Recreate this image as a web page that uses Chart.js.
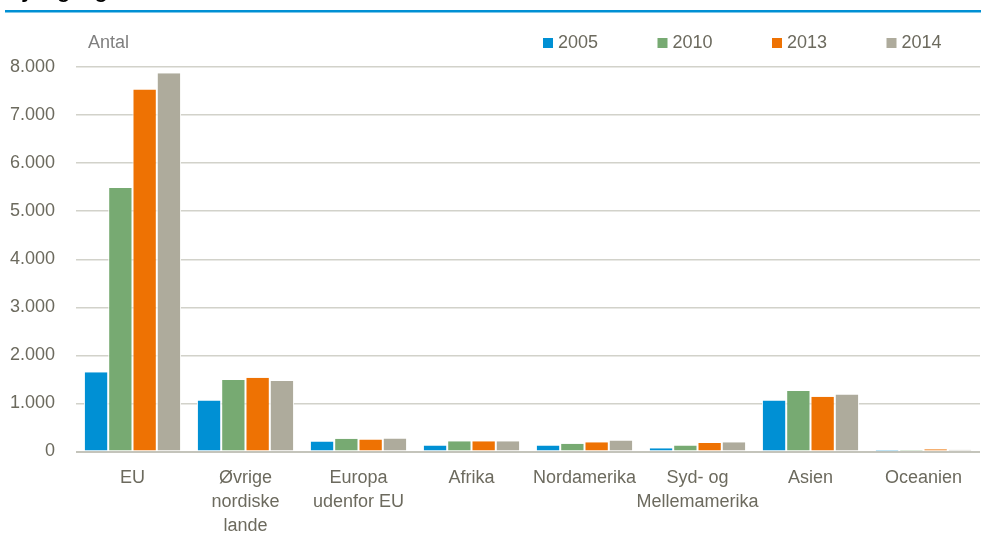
<!DOCTYPE html>
<html>
<head>
<meta charset="utf-8">
<script src="https://cdn.jsdelivr.net/npm/chart.js@4"></script>
<style>
  html, body { margin: 0; padding: 0; background: #fff; }
  #wrap { width: 981px; height: 535px; position: relative; overflow: hidden; }
</style>
</head>
<body>
<div id="wrap"><canvas id="bar-chart" width="981" height="535"></canvas></div>
<script>
// data
const regions = [
    ['EU'], ['Øvrige', 'nordiske', 'lande'], ['Europa', 'udenfor EU'], ['Afrika'],
    ['Nordamerika'], ['Syd- og', 'Mellemamerika'], ['Asien'], ['Oceanien']
];
const years = ['2005', '2010', '2013', '2014'];
const v2005 = [1650, 1060, 210, 125, 125, 70, 1060, 3];
const v2010 = [5480, 1490, 265, 215, 160, 125, 1260, 10];
const v2013 = [7530, 1535, 250, 215, 195, 175, 1140, 45];
const v2014 = [7870, 1465, 270, 215, 230, 195, 1185, 35];
const yTicks = [0, 1000, 2000, 3000, 4000, 5000, 6000, 7000, 8000];
const colors = ['#0090d4', '#77aa72', '#ee7203', '#aeab9c'];

const FONT = '"Liberation Sans", Arial, sans-serif';
const textCol = '#6c6a5e';

function dots(v) {
    return String(v).replace(/\B(?=(\d{3})+(?!\d))/g, '.');
}

// header line, cut-off title, "Antal" and the legend
const decor = {
    id: 'decor',
    afterDraw(chart) {
        const ctx = chart.ctx;
        ctx.save();
        ctx.fillStyle = '#000';
        ctx.font = 'bold 21px ' + FONT;
        ctx.textBaseline = 'alphabetic';
        ctx.textAlign = 'left';
        ctx.fillText('Ny tilgang', 6, -2.5);

        ctx.fillStyle = '#0090d4';
        ctx.fillRect(5, 10, 976, 2.5);

        ctx.font = '18px ' + FONT;
        ctx.textBaseline = 'middle';
        ctx.fillStyle = '#7f7f7f';
        ctx.fillText('Antal', 88, 43);

        chart.data.datasets.forEach(function (ds, i) {
            const x = 543 + i * 114.5;
            ctx.fillStyle = ds.backgroundColor;
            ctx.fillRect(x, 38, 10, 10);
            ctx.fillStyle = textCol;
            ctx.fillText(ds.label, x + 15, 43.5);
        });
        ctx.restore();
    }
};

new Chart(document.getElementById('bar-chart'), {
    type: 'bar',
    data: {
        labels: regions,
        datasets: [
            {label: years[0], data: v2005, backgroundColor: colors[0]},
            {label: years[1], data: v2010, backgroundColor: colors[1]},
            {label: years[2], data: v2013, backgroundColor: colors[2]},
            {label: years[3], data: v2014, backgroundColor: colors[3]}
        ]
    },
    options: {
        responsive: false,
        animation: false,
        layout: {padding: {top: 67, right: 1, left: 0, bottom: 0}},
        datasets: {
            bar: {
                categoryPercentage: 0.86,
                barPercentage: 1,
                borderColor: '#fff',
                borderWidth: {left: 1, right: 1, top: 0, bottom: 0}
            }
        },
        plugins: {
            legend: {display: false},
            tooltip: {enabled: false}
        },
        scales: {
            x: {
                grid: {display: false, drawTicks: false},
                border: {display: false},
                afterFit: function (axis) { axis.height = 83.5; },
                ticks: {
                    color: textCol,
                    font: {family: FONT, size: 18, lineHeight: 1.333},
                    maxRotation: 0,
                    autoSkip: false,
                    padding: 14.5
                }
            },
            y: {
                min: 0,
                max: 8000,
                afterBuildTicks: function (axis) {
                    axis.ticks = yTicks.map(function (v) { return {value: v}; });
                },
                afterFit: function (axis) { axis.width = 76; },
                border: {display: false},
                grid: {
                    drawTicks: false,
                    color: function (c) { return c.tick.value === 0 ? '#c4c4bb' : '#d2d2ca'; },
                    lineWidth: function (c) { return c.tick.value === 0 ? 2 : 1.5; }
                },
                ticks: {
                    color: textCol,
                    font: {family: FONT, size: 18},
                    padding: 21,
                    callback: function (v) { return dots(v); }
                }
            }
        }
    },
    plugins: [decor]
});
</script>
</body>
</html>
